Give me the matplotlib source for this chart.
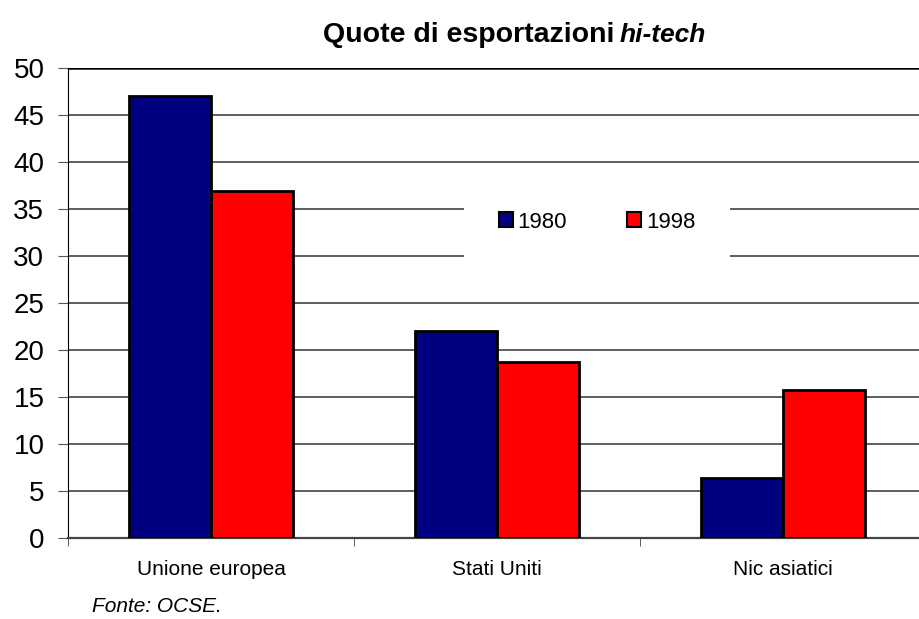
import numpy as np
import matplotlib.pyplot as plt
from matplotlib.patches import Rectangle

plt.rcParams['font.family'] = ['Liberation Sans', 'DejaVu Sans']

categories = ['Unione europea', 'Stati Uniti', 'Nic asiatici']
years = ['1980', '1998']
values_1980 = [47.0, 22.0, 6.4]
values_1998 = [36.9, 18.7, 15.7]
colors = ['#000080', '#ff0000']

W, H = 920, 619
fig = plt.figure(figsize=(W/100, H/100), dpi=100)
# plot area runs a little past the right edge, as in the original
ax = fig.add_axes([68/W, 1 - 538/H, 858/W, 470/H])

x = np.arange(len(categories))
w = 0.287
ax.bar(x - w/2, values_1980, w, color=colors[0], edgecolor='black', linewidth=2, label=years[0], zorder=3)
ax.bar(x + w/2, values_1998, w, color=colors[1], edgecolor='black', linewidth=2, label=years[1], zorder=3)

ax.set_xlim(-0.5, 2.5)
ax.set_ylim(0, 50)
ax.set_yticks(np.arange(0, 51, 5))
ax.yaxis.grid(True, color='#333333', linewidth=1.1)
ax.set_axisbelow(True)
ax.axhline(50, color='black', linewidth=1.8, zorder=1)

# category labels centred, ticks between categories
ax.set_xticks(x)
ax.set_xticklabels(categories, fontsize=15)
ax.tick_params(axis='x', length=0, pad=16)
ax.set_xticks([-0.5, 0.5, 1.5, 2.5], minor=True)
ax.tick_params(axis='x', which='minor', length=6, color='#444444')
ax.tick_params(axis='y', labelsize=20, length=7, color='#555555', pad=10)

for s in ['top', 'right']:
    ax.spines[s].set_visible(False)
ax.spines['left'].set_color('black')
ax.spines['bottom'].set_color('#444444')
ax.spines['bottom'].set_linewidth(1.6)

# white patch behind the legend hides the gridlines
ax.add_patch(Rectangle((464/W, 1 - 262/H), 266/W, 60/H, transform=fig.transFigure,
                       facecolor='white', edgecolor='none', zorder=2, clip_on=False))
leg = ax.legend(loc='center', bbox_to_anchor=(597/W, 1 - 222/H), bbox_transform=fig.transFigure,
                ncol=2, frameon=False, fontsize=16, handlelength=0.63, handleheight=0.63,
                handletextpad=0.22, columnspacing=2.7, borderpad=0)
leg.set_zorder(6)
for p in leg.get_patches():
    p.set_linewidth(1.5)

fig.text(614/W, 1 - 35/H, 'Quote di esportazioni', ha='right', va='center',
         fontsize=20.5, fontweight='bold')
fig.text(620/W, 1 - 35/H, 'hi-tech', ha='left', va='center',
         fontsize=19, fontweight='bold', style='italic')
fig.text(92/W, 1 - 606/H, 'Fonte: OCSE.', ha='left', va='center', fontsize=15, style='italic')

fig.savefig('out.png', dpi=100)
